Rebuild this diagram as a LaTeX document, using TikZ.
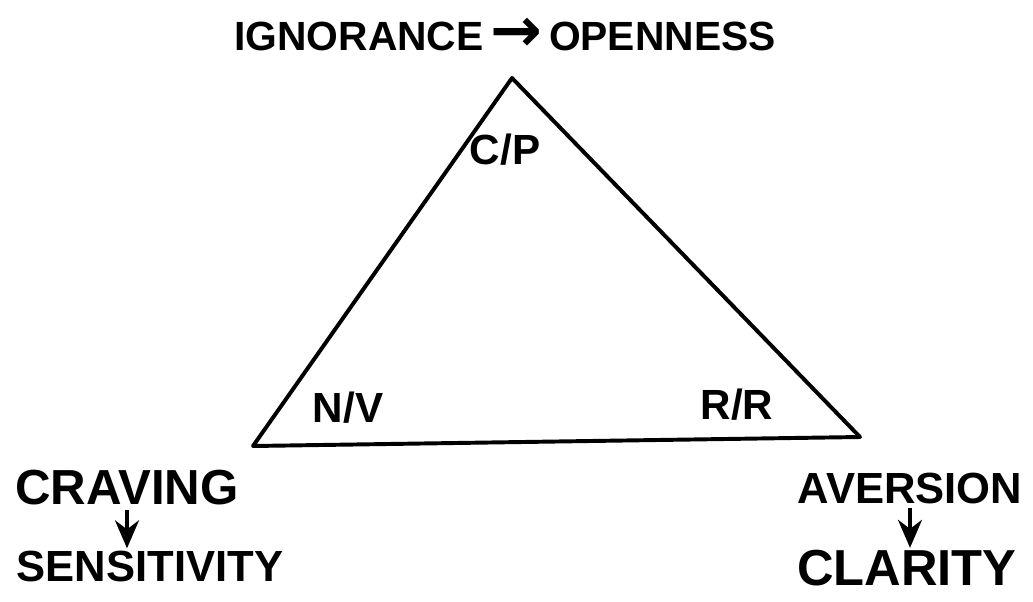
\documentclass[tikz,border=0pt]{standalone}
\usepackage{fontspec}
\setmainfont{Liberation Sans}
\newfontfamily\arrowfont{DejaVu Sans}
\usetikzlibrary{arrows.meta,positioning,calc}
\tikzset{
  hand/.style={inner sep=0pt, font=\fontsize{#1}{#1}\selectfont\bfseries},
  hand/.default=32pt,
  edge/.style={line width=2.8pt, line join=round},
  arrflow/.style={-{Stealth[length=7mm,width=6mm]}, line width=2.6pt, shorten <=1mm, shorten >=0.5mm},
}
\begin{document}
\begin{tikzpicture}[x=0.025cm, y=-0.025cm]
\useasboundingbox (0,0) rectangle (1033,601);
% corners of the triangle
\coordinate (apex) at (512,78);
\coordinate (left) at (253,446);
\coordinate (right) at (860,437);
\draw[edge] (apex) -- (left) -- (right) -- cycle;

\node[hand=29pt] (top) at (505,35) {IGNORANCE\,{\arrowfont\bfseries\fontsize{44pt}{44pt}\selectfont\raisebox{-0.5pt}{→}}\,OPENNESS};
\node[hand=30pt] (cp) at (505,150) {C/P};
\node[hand=30pt] (nv) at (348,408) {N/V};
\node[hand=30pt] (rr) at (737,405) {R/R};

\node[hand=35pt] (craving) at (127,488) {CRAVING};
\node[hand=31pt] (sensitivity) at (150,566) {SENSITIVITY};
\node[hand=31pt] (aversion) at (910,488) {AVERSION};
\node[hand=36pt] (clarity) at (907,568) {CLARITY};

\draw[arrflow] (craving.south) -- (craving.south |- sensitivity.north);
\draw[arrflow] (aversion.south) -- (aversion.south |- clarity.north);
\end{tikzpicture}
\end{document}
